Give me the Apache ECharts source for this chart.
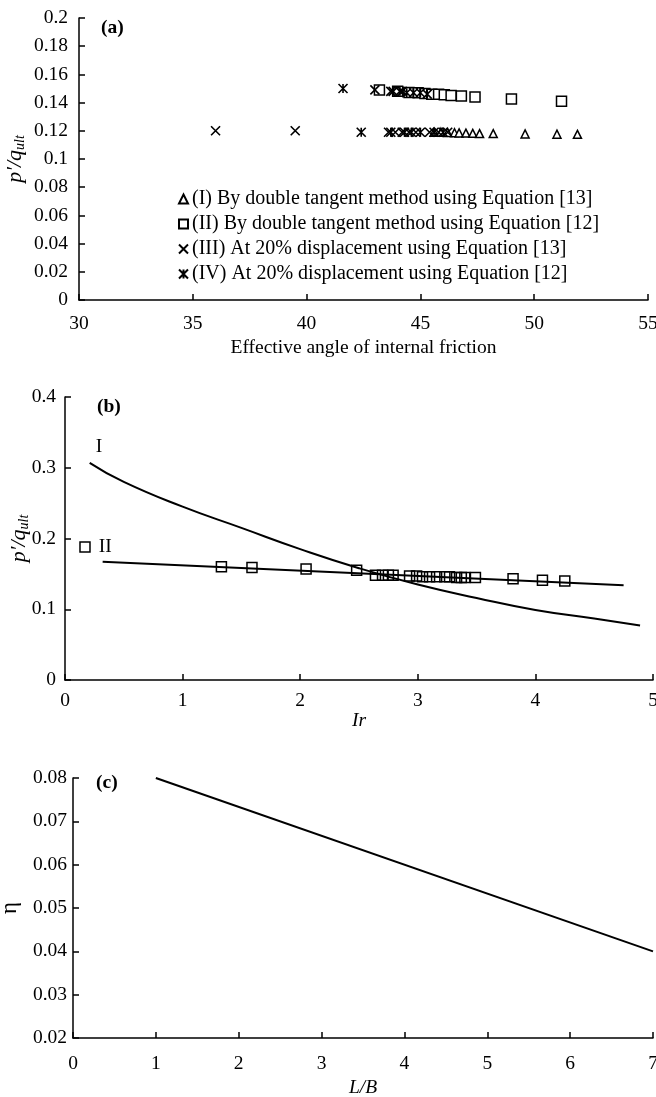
<!DOCTYPE html>
<html>
<head>
<meta charset="utf-8">
<title>p'/q_ult charts</title>
<script src="https://cdn.jsdelivr.net/npm/echarts@6/dist/echarts.min.js"></script>
<style>
  html, body { margin: 0; padding: 0; background: #fff; }
  #chart { width: 656px; height: 1097px; }
</style>
</head>
<body>
<div id="chart"></div>
<script>
// ---- (a) p'/q_ult vs effective angle of internal friction ----
const legendNames = [
  '(I) By double tangent method using Equation [13]',
  '(II) By double tangent method using Equation [12]',
  '(III) At 20% displacement using Equation [13]',
  '(IV) At 20% displacement using Equation [12]'
]
const phiTri = [45.6, 45.9, 46.2, 46.5, 46.7, 47.0, 47.3, 47.6, 48.2, 49.6, 51.0, 51.9]
const ratioTri = [0.119, 0.119, 0.1188, 0.1186, 0.1185, 0.1184, 0.1182, 0.118, 0.118, 0.1178, 0.1176, 0.1175]
const phiSq = [43.2, 44.0, 44.5, 44.9, 45.2, 45.5, 45.8, 46.05, 46.35, 46.8, 47.4, 49.0, 51.2]
const ratioSq = [0.149, 0.148, 0.1472, 0.147, 0.1465, 0.146, 0.146, 0.1455, 0.145, 0.1447, 0.144, 0.1426, 0.141]
const phiCross = [36.0, 39.5, 43.6, 43.9, 44.2, 44.5, 44.8, 45.4, 45.8, 46.2, 43.0, 43.7, 44.2]
const ratioCross = [0.12, 0.12, 0.119, 0.119, 0.119, 0.119, 0.119, 0.119, 0.119, 0.119, 0.149, 0.148, 0.148]
const phiStar = [41.6, 43.8, 44.1, 44.4, 44.7, 45.0, 45.3, 42.4, 43.7, 44.3, 44.6, 45.0, 45.6, 46.0]
const ratioStar = [0.15, 0.148, 0.148, 0.147, 0.147, 0.147, 0.146, 0.119, 0.119, 0.119, 0.119, 0.119, 0.119, 0.119]

// ---- (b) p'/q_ult vs Ir ----
const irCurveI = [0.21, 0.5, 1.0, 1.5, 2.0, 2.5, 3.0, 3.5, 4.0, 4.5, 4.89]
const ratioCurveI = [0.307, 0.28, 0.245, 0.215, 0.185, 0.158, 0.135, 0.116, 0.099, 0.087, 0.077]
const irLineII = [0.32, 4.75]
const ratioLineII = [0.167, 0.134]
const irSq = [0.17, 1.33, 1.59, 2.05, 2.48, 2.64, 2.70, 2.75, 2.79, 2.93, 2.99, 3.04, 3.10, 3.16, 3.23, 3.27, 3.33, 3.37, 3.40, 3.49, 3.81, 4.06, 4.25]
const ratioIrSq = [0.188, 0.160, 0.159, 0.157, 0.155, 0.148, 0.148, 0.148, 0.148, 0.147, 0.147, 0.146, 0.146, 0.146, 0.146, 0.146, 0.145, 0.145, 0.145, 0.145, 0.143, 0.141, 0.140]

// ---- (c) eta vs L/B ----
const lbValues = [1, 7]
const etaValues = [0.08, 0.04]

const zip = (xs, ys) => xs.map((x, i) => [x, ys[i]])

const serif = 'Liberation Serif, Times New Roman, serif'
const crossPath = 'path://M0,0L10,10M0,10L10,0'
const starPath = 'path://M0,0L10,10M0,10L10,0M5,0L5,10'

const hollow = { color: '#fff', borderColor: '#000', borderWidth: 1.5, opacity: 1 }
const strokeOnly = { color: 'transparent', borderColor: '#000', borderWidth: 1.6, opacity: 1 }

function makeX(grid, min, max, interval, name, gap, italic, margin) {
  return {
    type: 'value', gridIndex: grid, min, max, interval,
    name, nameLocation: 'middle', nameGap: gap, nameMoveOverlap: false,
    nameTextStyle: { fontFamily: serif, fontSize: 19.5, color: '#000', fontStyle: italic ? 'italic' : 'normal' },
    axisLine: { show: true, onZero: false, lineStyle: { color: '#000', width: 1.5 } },
    axisTick: { show: true, inside: true, length: 6, lineStyle: { color: '#000', width: 1.5 } },
    axisLabel: { color: '#000', fontFamily: serif, fontSize: 19.5, margin, showMinLabel: true, showMaxLabel: true },
    splitLine: { show: false }
  }
}

function makeY(grid, min, max, interval, name, gap, rich, margin) {
  return {
    type: 'value', gridIndex: grid, min, max, interval,
    name, nameLocation: 'middle', nameGap: gap, nameRotate: 90, nameMoveOverlap: false,
    nameTextStyle: { fontFamily: serif, fontSize: 23, color: '#000', rich },
    axisLine: { show: true, onZero: false, lineStyle: { color: '#000', width: 1.5 } },
    axisTick: { show: true, inside: true, length: 6, lineStyle: { color: '#000', width: 1.5 } },
    axisLabel: { color: '#000', fontFamily: serif, fontSize: 19.5, margin, showMinLabel: true, showMaxLabel: true },
    splitLine: { show: false }
  }
}

const pqRich = {
  p: { fontFamily: serif, fontStyle: 'italic', fontSize: 22, color: '#000' },
  s: { fontFamily: serif, fontStyle: 'italic', fontSize: 14, color: '#000', padding: [9, 0, 0, 0] }
}

const chart = echarts.init(document.getElementById('chart'), null, { renderer: 'canvas' })

const curveIData = zip(irCurveI, ratioCurveI).map((v, i) => i === 0
  ? { value: v, label: { show: true, formatter: 'I', position: [6, -26], fontFamily: serif, fontSize: 19.5, color: '#000' } }
  : v)
const irSqData = zip(irSq, ratioIrSq).map((v, i) => i === 0
  ? { value: v, label: { show: true, formatter: 'II', position: 'right', distance: 8, fontFamily: serif, fontSize: 19.5, color: '#000' } }
  : v)

chart.setOption({
  animation: false,
  backgroundColor: '#fff',
  title: [
    { text: '(a)', left: 101, top: 18, padding: 0, textStyle: { fontFamily: serif, fontSize: 19.5, fontWeight: 'bold', color: '#000' } },
    { text: '(b)', left: 97, top: 397, padding: 0, textStyle: { fontFamily: serif, fontSize: 19.5, fontWeight: 'bold', color: '#000' } },
    { text: '(c)', left: 96, top: 773, padding: 0, textStyle: { fontFamily: serif, fontSize: 19.5, fontWeight: 'bold', color: '#000' } }
  ],
  legend: {
    data: legendNames,
    orient: 'vertical',
    left: 178, top: 189,
    padding: 0,
    itemGap: 5,
    itemWidth: 9, itemHeight: 9,
    textStyle: { fontFamily: serif, fontSize: 20, color: '#000', padding: [0, 0, 0, -1] }
  },
  grid: [
    { left: 79, right: 8, top: 18, height: 282, outerBoundsMode: 'none', containLabel: false },
    { left: 65, right: 3, top: 397, height: 283, outerBoundsMode: 'none', containLabel: false },
    { left: 73, right: 3, top: 778, height: 260, outerBoundsMode: 'none', containLabel: false }
  ],
  xAxis: [
    makeX(0, 30, 55, 5, 'Effective angle of internal friction', 38, false, 14),
    makeX(1, 0, 5, 1, 'Ir', 31, true, 11),
    makeX(2, 0, 7, 1, 'L/B', 40, true, 16)
  ],
  yAxis: [
    makeY(0, 0, 0.2, 0.02, '{p|p′/q}{s|ult}', 52, pqRich, 11),
    makeY(1, 0, 0.4, 0.1, '{p|p′/q}{s|ult}', 34, pqRich, 9),
    makeY(2, 0.02, 0.08, 0.01, 'η', 52, undefined, 6)
  ],
  series: [
    { name: legendNames[0], type: 'scatter', xAxisIndex: 0, yAxisIndex: 0, symbol: 'triangle', symbolSize: 8, itemStyle: hollow, data: zip(phiTri, ratioTri) },
    { name: legendNames[1], type: 'scatter', xAxisIndex: 0, yAxisIndex: 0, symbol: 'rect', symbolSize: 10, itemStyle: hollow, data: zip(phiSq, ratioSq) },
    { name: legendNames[2], type: 'scatter', xAxisIndex: 0, yAxisIndex: 0, symbol: crossPath, symbolSize: 9, itemStyle: strokeOnly, data: zip(phiCross, ratioCross) },
    { name: legendNames[3], type: 'scatter', xAxisIndex: 0, yAxisIndex: 0, symbol: starPath, symbolSize: 9, itemStyle: strokeOnly, data: zip(phiStar, ratioStar) },

    { name: 'I', type: 'line', xAxisIndex: 1, yAxisIndex: 1, smooth: true, symbol: 'circle', symbolSize: 0.1, showSymbol: true,
      itemStyle: { color: 'transparent' }, lineStyle: { color: '#000', width: 2 }, data: curveIData },
    { name: 'II', type: 'line', xAxisIndex: 1, yAxisIndex: 1, showSymbol: false, symbol: 'none',
      lineStyle: { color: '#000', width: 2 }, data: zip(irLineII, ratioLineII) },
    { name: 'Ir squares', type: 'scatter', xAxisIndex: 1, yAxisIndex: 1, symbol: 'rect', symbolSize: 10,
      itemStyle: { color: 'transparent', borderColor: '#000', borderWidth: 1.5, opacity: 1 }, data: irSqData },

    { name: 'eta', type: 'line', xAxisIndex: 2, yAxisIndex: 2, showSymbol: false, symbol: 'none',
      lineStyle: { color: '#000', width: 2 }, data: zip(lbValues, etaValues) }
  ]
})
</script>
</body>
</html>
